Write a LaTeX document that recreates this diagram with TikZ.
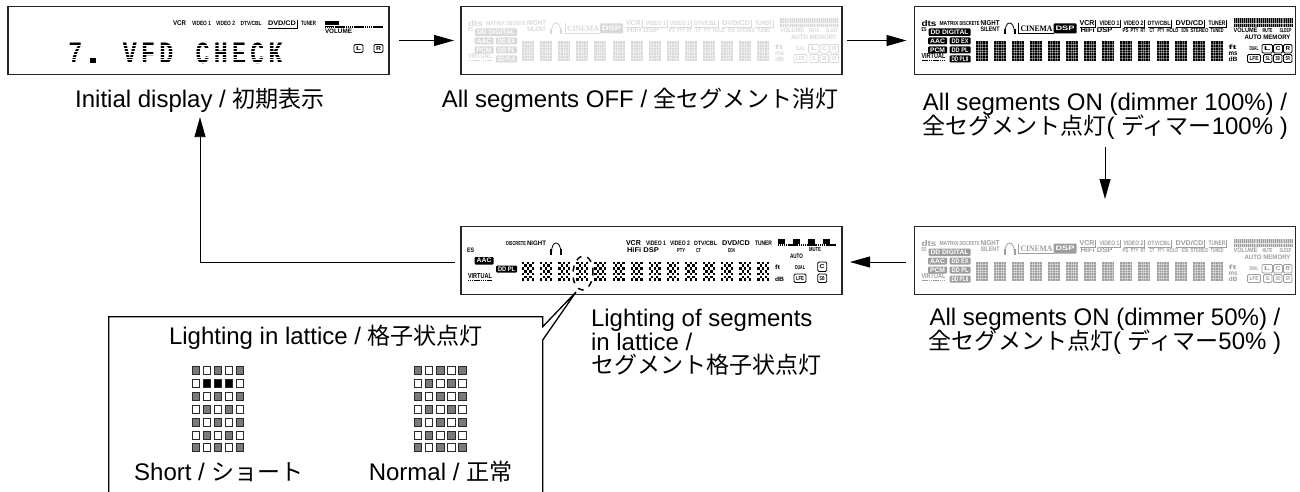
\documentclass[tikz,border=0pt]{standalone}
\usepackage{fontspec}
\usepackage{graphicx}
\setmainfont{Liberation Sans}
\newfontfamily\jp[Scale=0.96]{Noto Sans CJK JP}
\newfontfamily\vfdserif{Liberation Serif}
\newfontfamily\vfdmono{Liberation Mono}
\usetikzlibrary{arrows.meta,shapes.geometric}
\newcount\vtcount
\newlength\vtw
\newcommand\capfont{\fontsize{24}{23.6}\selectfont\lineskiplimit=-30pt\relax}
% text fitted in x1..x2 at centre y, cap height h
\newcommand\vt[5]{%
  \global\advance\vtcount by 1
  \pgfmathsetlength\vtw{(#2)-(#1)}%
  \node[vfdtext] (vt\the\vtcount) at ({((#1)+(#2))/2},{#3}) {\resizebox{\vtw}{#4pt}{\bfseries #5}};}
% inverted label
\newcommand\vb[6][vc]{%
  \fill[#1,rounded corners=1pt] (#2,#4) rectangle (#3,#5);
  \begingroup\colorlet{vt}{white}\vt{#2+2}{#3-2}{(#4+#5)/2}{4.5}{#6}\endgroup}
% outlined label box
\newcommand\vo[5]{%
  \draw[vc,line width=.9pt,rounded corners=1.2pt] (#1,#3) rectangle (#2,#4);
  \vt{#1+2}{#2-2}{(#3+#4)/2}{4}{#5}}
% underline with closing bracket
\newcommand\vu[2]{\draw[vc,line width=.7pt] (#1,20.8) -- (#2,20.8) -- (#2,13.5);}
\newcommand\vphones{%
  \draw[vc,line width=.8pt] (90.5,27) .. controls (90,13) and (100,13) .. (100,27);
  \fill[vc] (89.4,22.5) rectangle (91.4,28);
  \fill[vc] (99,22.5) rectangle (101,28);}
\newcommand\vtoplabels{%
  \vt{165}{180}{16.5}{5}{VCR}
  \vt{185}{205}{16.5}{4.5}{VIDEO 1}
  \vt{209}{229}{16.5}{4.5}{VIDEO 2}
  \vt{233}{256}{16.5}{4.5}{DTV/CBL}
  \vt{261}{289}{16.5}{5}{DVD/CD}
  \vt{294}{311}{16.5}{4.5}{TUNER}}
% all segments of a display, full content
\newcommand\vsegs{%
  \foreach \s in {0,...,13}{
    \pgfmathsetmacro\sx{61+\s*18.1}
    \fill[vc] (\sx,35) rectangle ++(12,19.6);
    \foreach \c in {1,...,4}{\draw[white,opacity=.4,line width=.5pt] ({\sx+\c*2.4},35) -- ++(0,19.6);}
    \foreach \r in {1,...,6}{\draw[white,opacity=.4,line width=.5pt] (\sx,{35+\r*2.8}) -- ++(12,0);}
  }}
\newcommand\vfull{%
  \vt{7}{22}{17}{6}{dts}
  \vt{25}{44}{17}{4}{MATRIX}
  \vt{45}{65}{17}{4}{DISCRETE}
  \vt{66}{85}{17}{5}{NIGHT}
  \vt{66}{85}{23}{4.5}{SILENT}
  \vphones
  \draw[vc,line width=.7pt] (104,17) -- (104,27) -- (139,27);
  \vt{106}{138}{22}{5.5}{\vfdserif CINEMA}
  \vb{139}{162}{17}{27}{DSP}
  \vtoplabels
  \vu{165}{181}\vu{185}{206}\vu{209}{230}\vu{233}{257}\vu{261}{290}\vu{294}{312}
  \vt{166}{198}{24}{5}{HiFi DSP}
  \vt{208}{214}{24}{4}{PS}
  \vt{216}{224}{24}{4}{PTY}
  \vt{226}{231}{24}{4}{RT}
  \vt{235}{240}{24}{4}{CT}
  \vt{243}{250}{24}{4}{PTY}
  \vt{252}{264}{24}{4}{HOLD}
  \vt{267}{274}{24}{4}{EON}
  \vt{276}{294}{24}{4}{STEREO}
  \vt{296}{309}{24}{4}{TUNED}
  \fill[vc] (319,12) rectangle (378,20.6);
  \foreach \i in {1,...,30}{\draw[white,opacity=.55,line width=.45pt] ({319+\i*1.93},12) -- ++(0,8.6);}
  \draw[white,opacity=.7,line width=.5pt] (319,16.6) -- (378,16.6);
  \vt{319}{343}{24}{4.5}{VOLUME}
  \vt{348}{358}{24}{4}{MUTE}
  \vt{365}{377}{24}{4}{SLEEP}
  \vt{330}{376}{31}{4.5}{AUTO MEMORY}
  \vt{335}{344}{42}{4}{DUAL}
  \vo{347.5}{358}{38}{46.5}{L}
  \vo{359}{368}{38}{46.5}{C}
  \vo{369}{377.5}{38}{46.5}{R}
  \vo{333}{346}{48}{56}{LFE}
  \vo{349}{357.5}{48}{56}{SL}
  \vo{359}{367.5}{48}{56}{SB}
  \vo{369}{377.5}{48}{56}{SR}
  \vt{314}{322}{41}{4.5}{ft}
  \vt{314}{323}{47}{3.6}{ms}
  \vt{314}{323}{53}{4.5}{dB}
  \vt{7}{12}{23}{4}{ES}
  \vb{14}{56}{22}{29.5}{DD DIGITAL}
  \vb{13.5}{32.5}{31}{38}{AAC}
  \vb{35}{56}{31}{38}{DD EX}
  \vb{13.5}{32.5}{40}{47}{PCM}
  \vb{35}{56}{40}{47}{DD PL}
  \vt{7}{31}{50}{5}{VIRTUAL}
  \foreach \i in {0,...,12} {\fill[vc] ({7+\i*1.85},53.6) rectangle ++(1.3,1.3);}
  \vb{35}{56}{49}{56}{DD PLII}
  \vsegs}
% one 5x7 lattice with cell style
\newcommand\vgrid[3]{% x, y, 1 when the short row is shown
  \foreach \c in {0,...,4}{
    \foreach \r in {0,...,6}{
      \pgfmathtruncatemacro\e{mod(\c+\r,2)}
      \pgfmathtruncatemacro\q{(#3==1)&&(\r==1)&&(\c>0)&&(\c<4)}
      \ifnum\q=1 \def\f{black}\else\ifnum\e=0 \def\f{lampgray}\else\def\f{white}\fi\fi
      \draw[draw=lampedge,line width=1pt,fill=\f] ({#1+\c*11.05},{#2+\r*12.9}) rectangle ++(7.4,8);
  }}}
\definecolor{lampgray}{HTML}{7A7A7A}
\definecolor{lampedge}{HTML}{2A2A2A}
\colorlet{vc}{black}
\colorlet{vt}{vc}
\tikzset{
  vfdtext/.style={inner sep=0pt,outer sep=0pt,text=vt,anchor=center},
  panelbox/.style={draw=black!85,line width=1.2pt,minimum width=381pt,minimum height=68pt,inner sep=0pt,outer sep=0pt},
  arr/.style={draw=black,line width=.9pt,-{Triangle[length=20pt,width=11pt]}},
  captxt/.style={inner sep=0pt,outer sep=0pt,align=center,font=\capfont},
  leftcap/.style={inner sep=0pt,outer sep=0pt,align=left,font=\capfont},
  callout/.style={draw=black,line width=1.3pt,fill=white,line join=miter},
  lens/.style={draw=black,ellipse,line width=1.5pt,dash pattern=on 6pt off 6pt,minimum width=20pt,minimum height=34pt,inner sep=0pt,rotate=-3}
}
\begin{document}
\begin{tikzpicture}[x=1pt,y=-1pt]
\useasboundingbox[fill=white] (0,0) rectangle (1300,492);
% panels
\node[panelbox] (p1) at (198.5,40.5) {};
\node[panelbox] (p2) at (651.5,40.5) {};
\node[panelbox] (p3) at (1105,40.5) {};
\node[panelbox] (p4) at (651.5,260.5) {};
\node[panelbox] (p5) at (1105,260.5) {};
% panel 1
\begin{scope}[shift={(8,6.5)}]
  \colorlet{vc}{black}\colorlet{vt}{black}
  \vt{165}{178}{16.5}{4.8}{VCR}
  \vt{184}{203}{16.5}{4.3}{VIDEO 1}
  \vt{208}{227}{16.5}{4.3}{VIDEO 2}
  \vt{232.7}{253.7}{16.5}{4.3}{DTV/CBL}
  \vt{260}{288}{16.5}{4.8}{DVD/CD}
  \vt{293}{308}{16.5}{4.3}{TUNER}
  \draw[vc,line width=.9pt] (259.7,21.5) -- (289,21.5) -- (289,14);
  \fill[vc] (317,14.5) rectangle (330.5,19);
  \foreach \i in {0,...,30}{\fill[vc] ({317+\i*1.9},20) rectangle ++(1.45,1.8);}
  \fill[vc] (317,19.2) rectangle (325,20);
  \vt{317}{344}{24.5}{4.5}{VOLUME}
  \vo{346}{355}{38}{46}{L}
  \vo{366}{375}{38}{46}{R}
  \vt{60.3}{74.3}{46.5}{20.5}{\vfdmono 7}
  \vt{114.9}{128.9}{46.5}{20.5}{\vfdmono V}
  \vt{133.1}{147.1}{46.5}{20.5}{\vfdmono F}
  \vt{151.3}{165.3}{46.5}{20.5}{\vfdmono D}
  \vt{187.7}{201.7}{46.5}{20.5}{\vfdmono C}
  \vt{205.9}{219.9}{46.5}{20.5}{\vfdmono H}
  \vt{224.1}{238.1}{46.5}{20.5}{\vfdmono E}
  \vt{242.3}{256.3}{46.5}{20.5}{\vfdmono C}
  \vt{260.5}{274.5}{46.5}{20.5}{\vfdmono K}
  % the dot matrix of the large text
  \foreach \r in {1,...,7}{\fill[white] (58,{35.6+\r*2.9}) rectangle (278,{36.1+\r*2.9});}
  \vt{82}{88}{54.3}{5}{\vfdmono\rule{1em}{1em}}
\end{scope}
% panel 2 (off)
\begin{scope}[shift={(461,6.5)}]
  \colorlet{vc}{black!15}\colorlet{vt}{black!15}
  \vfull
\end{scope}
% panel 3 (100%)
\begin{scope}[shift={(914.5,6.5)}]
  \colorlet{vc}{black}\colorlet{vt}{black}
  \vfull
\end{scope}
% panel 5 (50%)
\begin{scope}[shift={(914.5,226.5)}]
  \colorlet{vc}{black!38}\colorlet{vt}{black!38}
  \vfull
\end{scope}
% panel 4 (lattice)
\begin{scope}[shift={(461,226.5)}]
  \colorlet{vc}{black}\colorlet{vt}{black}
  \vt{6}{13}{23.5}{4.5}{ES}
  \vb{13.5}{32.5}{30.5}{38}{AAC}
  \vb{35}{56}{39}{46}{DD PL}
  \vt{7}{31}{50}{5}{VIRTUAL}
  \foreach \i in {0,...,12} {\fill[vc] ({7+\i*1.85},53.6) rectangle ++(1.3,1.3);}
  \vt{45}{65}{17}{4}{DISCRETE}
  \vt{66}{85}{17}{4.5}{NIGHT}
  \vphones
  \vtoplabels
  \vt{166}{198}{24}{5}{HiFi DSP}
  \vt{216}{224}{24}{4}{PTY}
  \vt{235}{240}{24}{4}{CT}
  \vt{267}{274}{24}{4}{EON}
  \foreach \x in {317,332,347,362}{\fill[vc] (\x,12) rectangle ++(7,5);}
  \foreach \i in {0,...,30}{\fill[vc] ({317+\i*1.9},17.6) rectangle ++(1.45,2);}
  \vt{348}{360}{23}{4}{MUTE}
  \vt{329}{342}{30}{4.5}{AUTO}
  \vt{334}{344}{41}{4}{DUAL}
  \vo{356.7}{365.7}{35.5}{45}{C}
  \vo{333}{345}{47.5}{56}{LFE}
  \vo{356.7}{365.7}{47.5}{56}{SB}
  \vt{314}{319}{41}{4.5}{ft}
  \vt{314}{323}{53}{4.5}{dB}
  \foreach \s in {0,...,13}{
    \foreach \c in {0,...,4}{
      \foreach \r in {0,...,6}{
        \pgfmathtruncatemacro\e{mod(\c+\r,2)}
        \ifnum\e=0 \fill[vc] ({61+\s*18.1+\c*2.44},{35+\r*2.8}) rectangle ++(2.3,2.6);\fi
  }}}
\end{scope}
% captions
\node[captxt] (l1) at (200,100) {Initial display / {\jp 初期表示}};
\node[captxt] (l2) at (640,100) {All segments OFF / {\jp 全セグメント消灯}};
\node[captxt] (l3) at (1105,116) {All segments ON (dimmer 100\%) /\\{\jp 全セグメント点灯}( {\jp ディマー}100\% )};
\node[captxt] (l5) at (1105,331) {All segments ON (dimmer 50\%) /\\{\jp 全セグメント点灯}( {\jp ディマー}50\% )};
\node[leftcap,anchor=west] (l4) at (591,342.5) {Lighting of segments\\in lattice /\\{\jp セグメント格子状点灯}};
% connectors
\draw[arr,shorten <=10pt,shorten >=7pt] (p1.east) -- (p2.west);
\draw[arr,shorten <=5pt,shorten >=8pt] (p2.east) -- (p3.west);
\draw[arr,shorten <=8pt,shorten >=27.5pt] (l3.south) -- (p5.north);
\draw[arr,shorten <=9pt,shorten >=8pt] ([yshift=-1.5pt]p5.west) -- ([yshift=-1.5pt]p4.east);
\draw[arr,shorten <=6pt,shorten >=5pt] ([yshift=-1.5pt]p4.west) -| (l1.south);
% callout
\node[lens] (lens) at (583,273) {};
\draw[callout] (108.7,492) -- (108.7,316.7) -- (542.7,316.7) -- (542.7,326.7) -- (576,292) -- (542.7,340) -- (542.7,492);
\node[captxt] (c0) at (326,337) {Lighting in lattice / {\jp 格子状点灯}};
\vgrid{192}{366.5}{1}
\vgrid{414.5}{366.5}{0}
\node[captxt] (c1) at (219,472) {Short / {\jp ショート}};
\node[captxt] (c2) at (440.5,472) {Normal / {\jp 正常}};
\end{tikzpicture}
\end{document}
